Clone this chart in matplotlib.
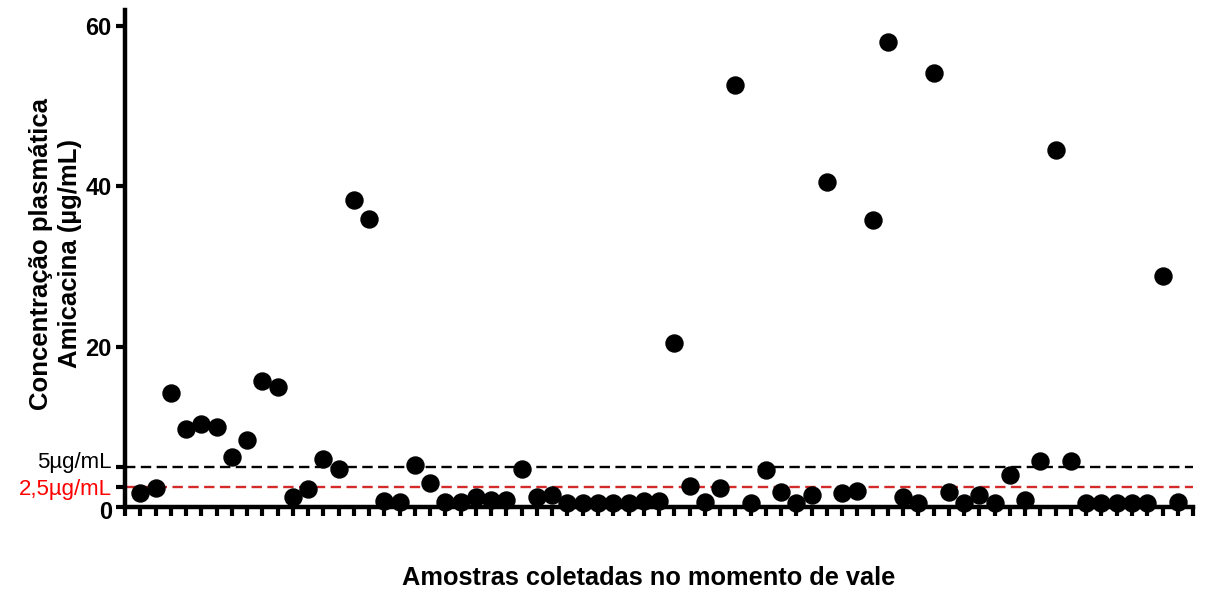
import numpy as np
import matplotlib
matplotlib.use("Agg")
import matplotlib.pyplot as plt
from matplotlib.transforms import ScaledTranslation

plt.rcParams['font.family'] = ['Liberation Sans', 'DejaVu Sans']

# trough concentrations, one per sample (ug/mL)
concentracao = [1.7, 2.4, 14.2, 9.7, 10.4, 10.0, 6.2, 8.3, 15.7, 15.0,
                1.2, 2.2, 6.0, 4.8, 38.3, 35.9, 0.7, 0.6, 5.3, 3.0,
                0.6, 0.6, 1.3, 0.9, 0.9, 4.8, 1.3, 1.5, 0.5, 0.5,
                0.5, 0.5, 0.5, 0.7, 0.7, 20.5, 2.6, 0.6, 2.4, 52.6,
                0.5, 4.6, 1.9, 0.5, 1.5, 40.6, 1.8, 2.0, 35.8, 58.0,
                1.3, 0.5, 54.1, 1.9, 0.5, 1.5, 0.5, 4.0, 0.9, 5.8,
                44.5, 5.8, 0.5, 0.5, 0.5, 0.5, 0.5, 28.8, 0.6]
amostras = np.arange(1, len(concentracao) + 1)

limites = [5, 2.5]
limite_labels = ['5µg/mL', '2,5µg/mL']
limite_cores = ['black', '#d42a2a']
limite_text_cores = ['black', 'red']

y_ticks = [0, 20, 40, 60]

fig = plt.figure(figsize=(12.08, 5.89), dpi=100)
ax = fig.add_axes([0.1035, 0.1392, 0.8841, 0.8438])

# reference lines
for val, cor in zip(limites, limite_cores):
    ax.plot([0, len(concentracao) + 1], [val, val], color=cor, lw=1.7,
            linestyle=(0, (4.4, 2.3)), zorder=2)

ax.scatter(amostras, concentracao, s=150, color='black', zorder=5, clip_on=False)

ax.set_xlim(0, len(concentracao) + 1)
ax.set_ylim(0, 62)

for side in ['top', 'right']:
    ax.spines[side].set_visible(False)
for side in ['left', 'bottom']:
    ax.spines[side].set_linewidth(3.2)
ax.spines['left'].set_bounds(0, 62)

ax.set_xticks(np.arange(0, len(concentracao) + 2))
ax.set_xticklabels([])
ax.tick_params(axis='x', length=6.5, width=3, direction='out')

ax.set_yticks(y_ticks + limites)
ax.set_yticklabels([str(t) for t in y_ticks] + limite_labels)
ax.tick_params(axis='y', length=6.5, width=3, direction='out', pad=3)
tick_labels = ax.get_yticklabels()
for lbl in tick_labels[:len(y_ticks)]:
    lbl.set_fontsize(17)
    lbl.set_fontweight('bold')
for lbl, cor in zip(tick_labels[len(y_ticks):], limite_text_cores):
    lbl.set_fontsize(16)
    lbl.set_color(cor)

# small vertical nudges (pixels) so the packed labels near 0 stay apart
nudges = {0: -3, len(y_ticks): 7, len(y_ticks) + 1: 0}
for idx, px in nudges.items():
    lbl = tick_labels[idx]
    lbl.set_transform(lbl.get_transform()
                      + ScaledTranslation(0, px / fig.dpi, fig.dpi_scale_trans))

ax.set_ylabel('Concentração plasmática\nAmicacina (µg/mL)', fontsize=18.5,
              fontweight='bold', linespacing=1.3)
ax.yaxis.set_label_coords(-0.040, 0.51)
ax.set_xlabel('Amostras coletadas no momento de vale', fontsize=18.3,
              fontweight='bold')
ax.xaxis.set_label_coords(0.49, -0.118)

fig.savefig('out.png', dpi=100)
